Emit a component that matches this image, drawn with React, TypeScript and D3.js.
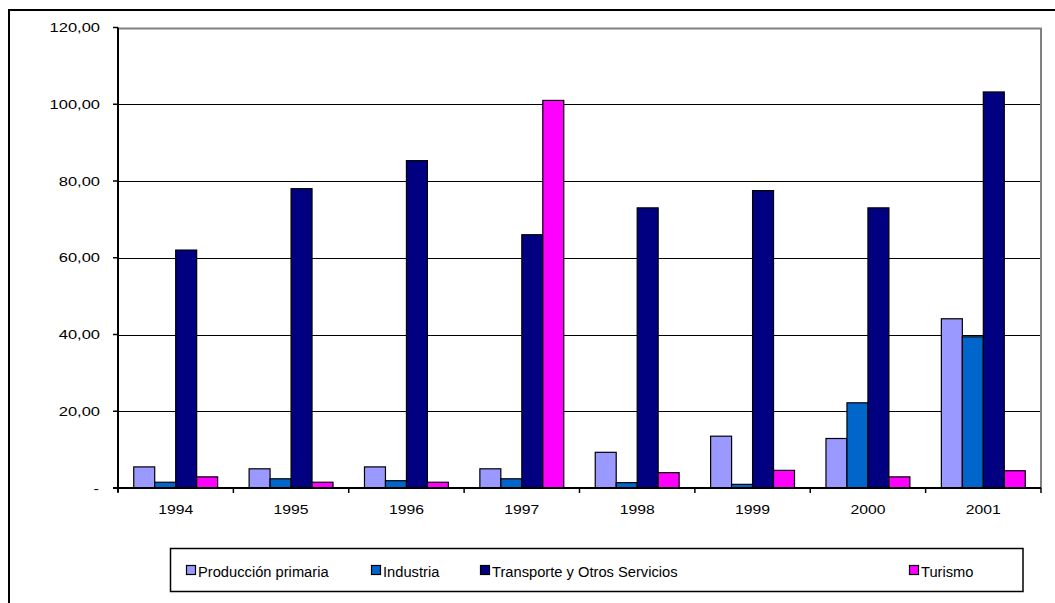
import React, { useEffect, useRef } from "react";
import * as d3 from "d3";

const years = ["1994", "1995", "1996", "1997", "1998", "1999", "2000", "2001"];
const seriesNames = ["Producción primaria", "Industria", "Transporte y Otros Servicios", "Turismo"];
const seriesColors = ["#9999FF", "#0066CC", "#000080", "#FF00FF"];
const produccion = [5.5, 5.0, 5.5, 5.0, 9.3, 13.5, 12.9, 44.1];
const industria = [1.5, 2.4, 1.9, 2.4, 1.4, 0.95, 22.2, 39.4];
const transporte = [62.0, 78.0, 85.3, 66.0, 73.0, 77.5, 73.0, 103.2];
const turismo = [2.9, 1.5, 1.5, 101.0, 4.0, 4.6, 2.9, 4.5];
const yTicks = [0, 20, 40, 60, 80, 100, 120];

export default function App() {
  const ref = useRef<SVGSVGElement>(null);
  useEffect(() => {
    const svg = d3.select(ref.current);
    svg.selectAll("*").remove();
    const data = [produccion, industria, transporte, turismo];
    const left = 118, right = 1041, top = 27.5, bottom = 488;
    const font = "Liberation Sans, Arial, sans-serif";
    const x = d3.scaleBand().domain(years).range([left, right]).paddingInner(0).paddingOuter(0);
    const y = d3.scaleLinear().domain([0, 120]).range([bottom, top]);
    // group of 4 bars with a gap of 150% of a bar width
    const bw = x.bandwidth() / 5.5;
    const off = (x.bandwidth() - 4 * bw) / 2;

    // outer border
    svg.append("rect").attr("x", 9).attr("y", 10).attr("width", 1060).attr("height", 610)
      .attr("fill", "none").attr("stroke", "#000").attr("stroke-width", 2);

    // gridlines
    const g = svg.append("g");
    yTicks.filter(t => t > 0 && t < 120).forEach(t => {
      g.append("line").attr("x1", left).attr("x2", right).attr("y1", Math.round(y(t)) + 0.5).attr("y2", Math.round(y(t)) + 0.5)
        .attr("stroke", "#000").attr("stroke-width", 1);
    });
    // plot border top/right gray
    g.append("path").attr("d", `M${left},${Math.round(top) + 0.5}H${right}V${bottom}`)
      .attr("fill", "none").attr("stroke", "#808080").attr("stroke-width", 2);

    // bars
    data.forEach((vals, si) => {
      svg.append("g").selectAll("rect").data(vals).enter().append("rect")
        .attr("x", (_, i) => (x(years[i]) as number) + off + si * bw)
        .attr("y", d => y(d))
        .attr("width", bw)
        .attr("height", d => bottom - y(d))
        .attr("fill", seriesColors[si])
        .attr("stroke", "#000").attr("stroke-width", 1.2);
    });

    // axes
    const axisG = svg.append("g");
    axisG.append("line").attr("x1", left).attr("x2", left).attr("y1", top).attr("y2", bottom + 4)
      .attr("stroke", "#000").attr("stroke-width", 2);
    axisG.append("line").attr("x1", left - 5).attr("x2", right).attr("y1", bottom).attr("y2", bottom)
      .attr("stroke", "#000").attr("stroke-width", 2);
    yTicks.forEach(t => {
      axisG.append("line").attr("x1", left - 5).attr("x2", left).attr("y1", y(t)).attr("y2", y(t))
        .attr("stroke", "#000").attr("stroke-width", 1.5);
      axisG.append("text").attr("transform", `translate(${t === 0 ? 99 : 100},${y(t) + 4.6}) scale(1.32,1)`)
        .attr("text-anchor", "end").attr("font-family", font)
        .attr("font-size", 12.5).attr("fill", "#000")
        .text(t === 0 ? "-" : d3.format(".2f")(t).replace(".", ","));
    });
    years.forEach((yr) => {
      const xx = (x(yr) as number);
      axisG.append("line").attr("x1", xx).attr("x2", xx).attr("y1", bottom).attr("y2", bottom + 5)
        .attr("stroke", "#000").attr("stroke-width", 1.5);
      axisG.append("text").attr("transform", `translate(${xx + x.bandwidth() / 2},514) scale(1.26,1)`)
        .attr("text-anchor", "middle").attr("font-family", font)
        .attr("font-size", 12.5).attr("fill", "#000").text(yr);
    });
    axisG.append("line").attr("x1", right).attr("x2", right).attr("y1", bottom).attr("y2", bottom + 5)
      .attr("stroke", "#000").attr("stroke-width", 1.5);

    // legend
    const lg = svg.append("g");
    lg.append("rect").attr("x", 170.5).attr("y", 548.5).attr("width", 852.5).attr("height", 43)
      .attr("fill", "#fff").attr("stroke", "#000").attr("stroke-width", 1.5);
    const sqX = [186, 371, 480, 909];
    seriesNames.forEach((n, i) => {
      lg.append("rect").attr("x", sqX[i] + 0.5).attr("y", 565.5).attr("width", 9).attr("height", 9)
        .attr("fill", seriesColors[i]).attr("stroke", "#000").attr("stroke-width", 1.2);
      lg.append("text").attr("x", sqX[i] + 12).attr("y", 576.5)
        .attr("font-family", font).attr("font-size", 14.7).attr("fill", "#000").text(n);
    });
  }, []);
  return (
    <svg ref={ref} width={1055} height={603} style={{ position: "absolute", left: 0, top: 0, background: "#fff" }} />
  );
}
